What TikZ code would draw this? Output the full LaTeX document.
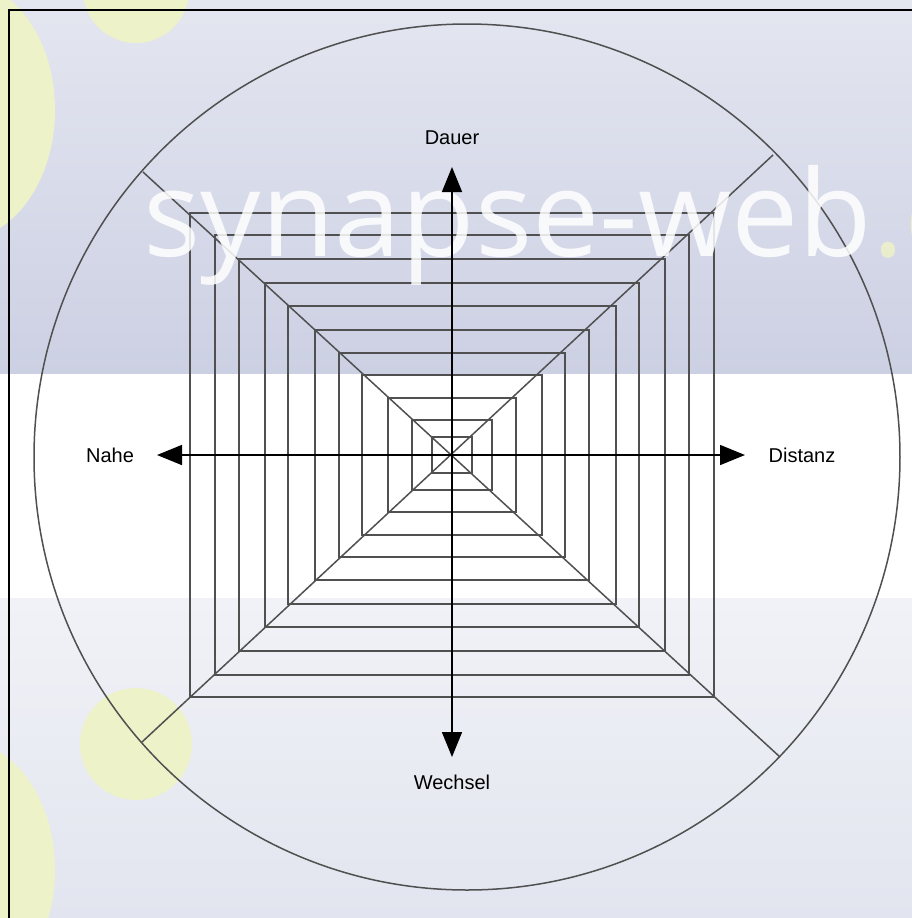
\documentclass[tikz,border=0pt]{standalone}
\usepackage{fontspec}
\setmainfont{Liberation Sans}
\newfontfamily\markfont{Open Sans}
\usetikzlibrary{arrows.meta,calc,positioning}
\definecolor{bandtop}{HTML}{E4E6F0}
\definecolor{bandmid}{HTML}{CCD0E3}
\definecolor{bandlow}{HTML}{F1F2F7}
\definecolor{bandend}{HTML}{E2E5EF}
\definecolor{blob}{HTML}{EEF2C8}
\definecolor{webgray}{HTML}{505050}
\tikzset{
  web/.style={draw=webgray,line width=0.75pt},
  axis/.style={->,line width=0.8pt},
  pole/.style={inner sep=0pt,font=\fontsize{10}{12}\selectfont}
}

\begin{document}
\begin{tikzpicture}[x=0.5pt,y=-0.5pt,>={Triangle[length=12.5pt,width=10pt]}]
  \useasboundingbox (0,0) rectangle (912,918);
  \clip (0,0) rectangle (912,918);
  % background bands
  \shade[top color=bandtop,bottom color=bandmid] (0,0) rectangle (912,374);
  \fill[white] (0,374) rectangle (912,598);
  \shade[top color=bandlow,bottom color=bandend] (0,598) rectangle (912,918);
  \fill[blob] (136,-10) circle[radius=26.5pt];
  \fill[blob] (-40,110) ellipse[x radius=47.5pt,y radius=65pt];
  \fill[blob] (136,744) circle[radius=28pt];
  \fill[blob] (-40,870) ellipse[x radius=47.5pt,y radius=65pt];
  \draw[line width=1pt] (9,918) -- (9,10) -- (912,10);

  % circle and diagonals
  \draw[web] (467,457) circle[radius=216.5pt];
  \coordinate (o) at (452,455);
  \coordinate (ul) at (143,172);
  \coordinate (ur) at (773,155);
  \coordinate (ll) at (142,742);
  \coordinate (lr) at (780,757);
  \draw[web] (ul) -- (lr);
  \draw[web] (ur) -- (ll);

  % nested rectangles
  \foreach \w/\h in {20/18,40/35,64/57,90/80,113/102,137/125,164/149,187/172,213/196,237/220,262/242}
    \draw[web] ($(o)+(-\w,-\h)$) rectangle ($(o)+(\w,\h)$);

  % watermark
  \node[anchor=base west,inner sep=0pt,text=white,opacity=0.85,
        font=\markfont\fontsize{60}{72}\selectfont] (mark) at (143,256)
    {synapse-web\textcolor{blob}{.c}};

  % axes
  \node[pole] (dauer) at (452,138) {Dauer};
  \node[pole] (wechsel) at (452,782) {Wechsel};
  \node[pole] (nahe) at (110,455) {Nahe};
  \node[pole] (distanz) at (802,455) {Distanz};
  \coordinate (tn) at (452,167);
  \coordinate (ts) at (452,757);
  \coordinate (tw) at (157,455);
  \coordinate (te) at (745,455);
  \draw[axis] (o) -- (tn);
  \draw[axis] (o) -- (ts);
  \draw[axis] (o) -- (tw);
  \draw[axis] (o) -- (te);
\end{tikzpicture}
\end{document}
